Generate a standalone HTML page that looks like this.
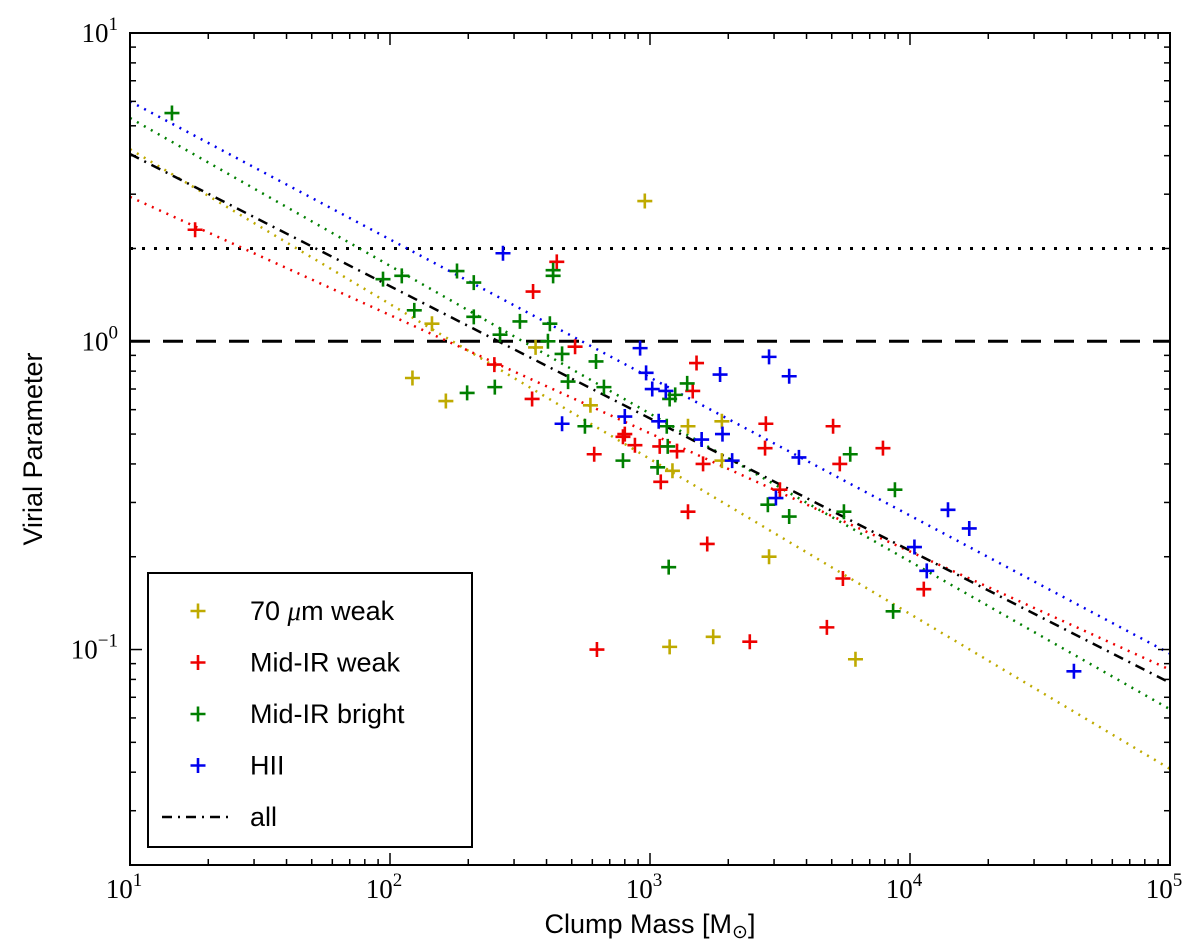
<!DOCTYPE html>
<html><head><meta charset="utf-8"><style>
html,body{margin:0;padding:0;background:#fff;}
svg{display:block;font-family:"Liberation Sans",sans-serif;}
</style></head><body>
<svg id="chart" width="1200" height="943" viewBox="0 0 1200 943" xmlns="http://www.w3.org/2000/svg">
<rect x="0" y="0" width="1200" height="943" fill="#fff"/>
<g id="plot"></g>
<g id="axes"></g>
<text x="650" y="933" font-size="27" text-anchor="middle">Clump Mass [M<tspan font-size="19" dy="5">⊙</tspan><tspan dy="-5">]</tspan></text>
<text transform="translate(42,449) rotate(-90)" font-size="27" text-anchor="middle">Virial Parameter</text>
<g id="legend"></g>
</svg>
<script>
const yellowMass=[955,145,363,122,164,590,1400,1890,1890,1220,2870,1750,1190,6170];
const yellowAlpha=[2.85,1.14,0.955,0.76,0.64,0.62,0.53,0.55,0.41,0.38,0.20,0.11,0.102,0.093];
const redMass=[17.8,438,355,515,252,352,800,875,610,1510,1460,2790,5060,7870,2770,5370,787,1090,1270,1600,1100,3160,1400,1660,5520,11300,4790,2420,625];
const redAlpha=[2.3,1.81,1.45,0.96,0.84,0.65,0.50,0.46,0.43,0.85,0.69,0.54,0.53,0.45,0.45,0.40,0.49,0.456,0.44,0.40,0.35,0.33,0.28,0.22,0.17,0.157,0.118,0.106,0.10];
const greenMass=[14.5,94,111,181,210,424,424,124,210,316,412,265,405,459,620,253,198,484,665,562,787,1390,1250,1190,1160,1170,1070,5890,2840,3430,5570,8750,1180,8610];
const greenAlpha=[5.5,1.59,1.63,1.69,1.55,1.70,1.63,1.26,1.20,1.16,1.14,1.05,1.0,0.91,0.86,0.71,0.68,0.74,0.71,0.53,0.41,0.73,0.67,0.65,0.53,0.456,0.39,0.43,0.295,0.27,0.28,0.33,0.185,0.133];
const blueMass=[272,916,966,1150,1020,2870,3430,1860,800,459,1080,1900,1580,2070,3740,3050,10400,14000,16900,11600,42700];
const blueAlpha=[1.93,0.95,0.79,0.69,0.70,0.89,0.77,0.78,0.57,0.54,0.55,0.50,0.48,0.41,0.42,0.31,0.215,0.284,0.247,0.18,0.085];
const fitMass=[10,100000];
const fitYellow=[4.2,0.041];
const fitRed=[2.94,0.086];
const fitGreen=[5.3,0.064];
const fitBlue=[6.0,0.097];
const fitAll=[4.05,0.078];
const xTickExp=[1,2,3,4,5];
const yTickExp=[1,0,-1];
const X0=130,X1=1170,Y0=33,Y1=865;
const xmin=1,xmax=5,ymin=Math.log10(0.02),ymax=1;
const NS="http://www.w3.org/2000/svg";
function sx(m){return X0+(Math.log10(m)-xmin)/(xmax-xmin)*(X1-X0);}
function sy(a){return Y1-(Math.log10(a)-ymin)/(ymax-ymin)*(Y1-Y0);}
function mk(tag,attrs,parent){const e=document.createElementNS(NS,tag);for(const k in attrs)e.setAttribute(k,attrs[k]);parent.appendChild(e);return e;}
const plot=document.getElementById('plot'),axes=document.getElementById('axes'),legend=document.getElementById('legend');
const C={y:'#bfaa00',r:'#ee0000',g:'#007f00',b:'#0000ee',k:'#000'};
// reference lines
let hl=mk('line',{x1:X0,x2:X1,y1:sy(2),y2:sy(2),stroke:'#000','stroke-width':3,'stroke-dasharray':'3,9'},plot);


hl=mk('line',{x1:X0,x2:X1,y1:sy(1),y2:sy(1),stroke:'#000','stroke-width':3,'stroke-dasharray':'20,13'},plot);


function fit(vals,col,name,dash){
  const l=mk('line',{x1:sx(fitMass[0]),y1:sy(vals[0]),x2:sx(fitMass[1]),y2:sy(vals[1]),stroke:col,'stroke-width':2.5,'stroke-dasharray':dash},plot);
  
  
}
fit(fitYellow,C.y,'fit-70um-weak','2,6');
fit(fitRed,C.r,'fit-mid-ir-weak','2,6');
fit(fitGreen,C.g,'fit-mid-ir-bright','2,6');
fit(fitBlue,C.b,'fit-hii','2,6');
fit(fitAll,C.k,'fit-all','10,6,2,6');
function plus(x,y,col,g){const h=7.5;mk('path',{d:`M${x-h},${y}H${x+h}M${x},${y-h}V${y+h}`,stroke:col,'stroke-width':2.6,fill:'none'},g);}
function series(ms,as,col,name){
  const g=mk('g',{},plot);
  
  
  for(let i=0;i<ms.length;i++)plus(sx(ms[i]),sy(as[i]),col,g);
}
series(yellowMass,yellowAlpha,C.y,'series-70um-weak');
series(redMass,redAlpha,C.r,'series-mid-ir-weak');
series(greenMass,greenAlpha,C.g,'series-mid-ir-bright');
series(blueMass,blueAlpha,C.b,'series-hii');
// frame
mk('rect',{x:X0,y:Y0,width:X1-X0,height:Y1-Y0,fill:'none',stroke:'#000','stroke-width':2},axes);
// ticks
for(let e=xmin;e<=xmax;e++){
  for(let k=1;k<10;k++){
    const v=Math.pow(10,e)*k; if(Math.log10(v)>xmax+1e-9)break;
    const x=sx(v),len=k==1?12:6;
    mk('line',{x1:x,x2:x,y1:Y1,y2:Y1-len,stroke:'#000','stroke-width':1.5},axes);
    mk('line',{x1:x,x2:x,y1:Y0,y2:Y0+len,stroke:'#000','stroke-width':1.5},axes);
  }
}
for(let e=-2;e<=1;e++){
  for(let k=1;k<10;k++){
    const v=Math.pow(10,e)*k; const lv=Math.log10(v); if(lv<ymin-1e-9)continue; if(lv>ymax+1e-9)break;
    const y=sy(v),len=k==1?12:6;
    mk('line',{x1:X0,x2:X0+len,y1:y,y2:y,stroke:'#000','stroke-width':1.5},axes);
    mk('line',{x1:X1,x2:X1-len,y1:y,y2:y,stroke:'#000','stroke-width':1.5},axes);
  }
}
xTickExp.forEach(e=>{
  const t=mk('text',{x:sx(Math.pow(10,e))-6,y:898,'font-size':27,'text-anchor':'middle','font-family':'Liberation Serif, serif'},axes);
  
  
  t.innerHTML='10<tspan font-size="19" dy="-12">'+e+'</tspan>';
});
yTickExp.forEach(e=>{
  const t=mk('text',{x:X0-12,y:sy(Math.pow(10,e))+9,'font-size':27,'text-anchor':'end','font-family':'Liberation Serif, serif'},axes);
  
  
  t.innerHTML='10<tspan font-size="19" dy="-12">'+(e<0?'−'+(-e):e)+'</tspan>';
});
// legend
const lb=mk('rect',{x:148,y:573,width:324,height:274,fill:'#fff',stroke:'#000','stroke-width':2},legend);


const labels=['70 <tspan font-style="italic" font-family="Liberation Serif, serif">μ</tspan>m weak','Mid-IR weak','Mid-IR bright','HII','all'];
const cols=[C.y,C.r,C.g,C.b,C.k];
const names=['legend-entry-70um-weak','legend-entry-mid-ir-weak','legend-entry-mid-ir-bright','legend-entry-hii','legend-entry-all'];
for(let i=0;i<5;i++){
  const y=611+i*51.5;
  const g=mk('g',{},legend);
  
  
  if(i<4)plus(198,y,cols[i],g);
  else mk('line',{x1:162,x2:232,y1:y,y2:y,stroke:'#000','stroke-width':2.5,'stroke-dasharray':'10,6,2,6'},g);
  const t=mk('text',{x:250,y:y+9,'font-size':27},g);
  t.innerHTML=labels[i];
}
</script>
</body></html>
